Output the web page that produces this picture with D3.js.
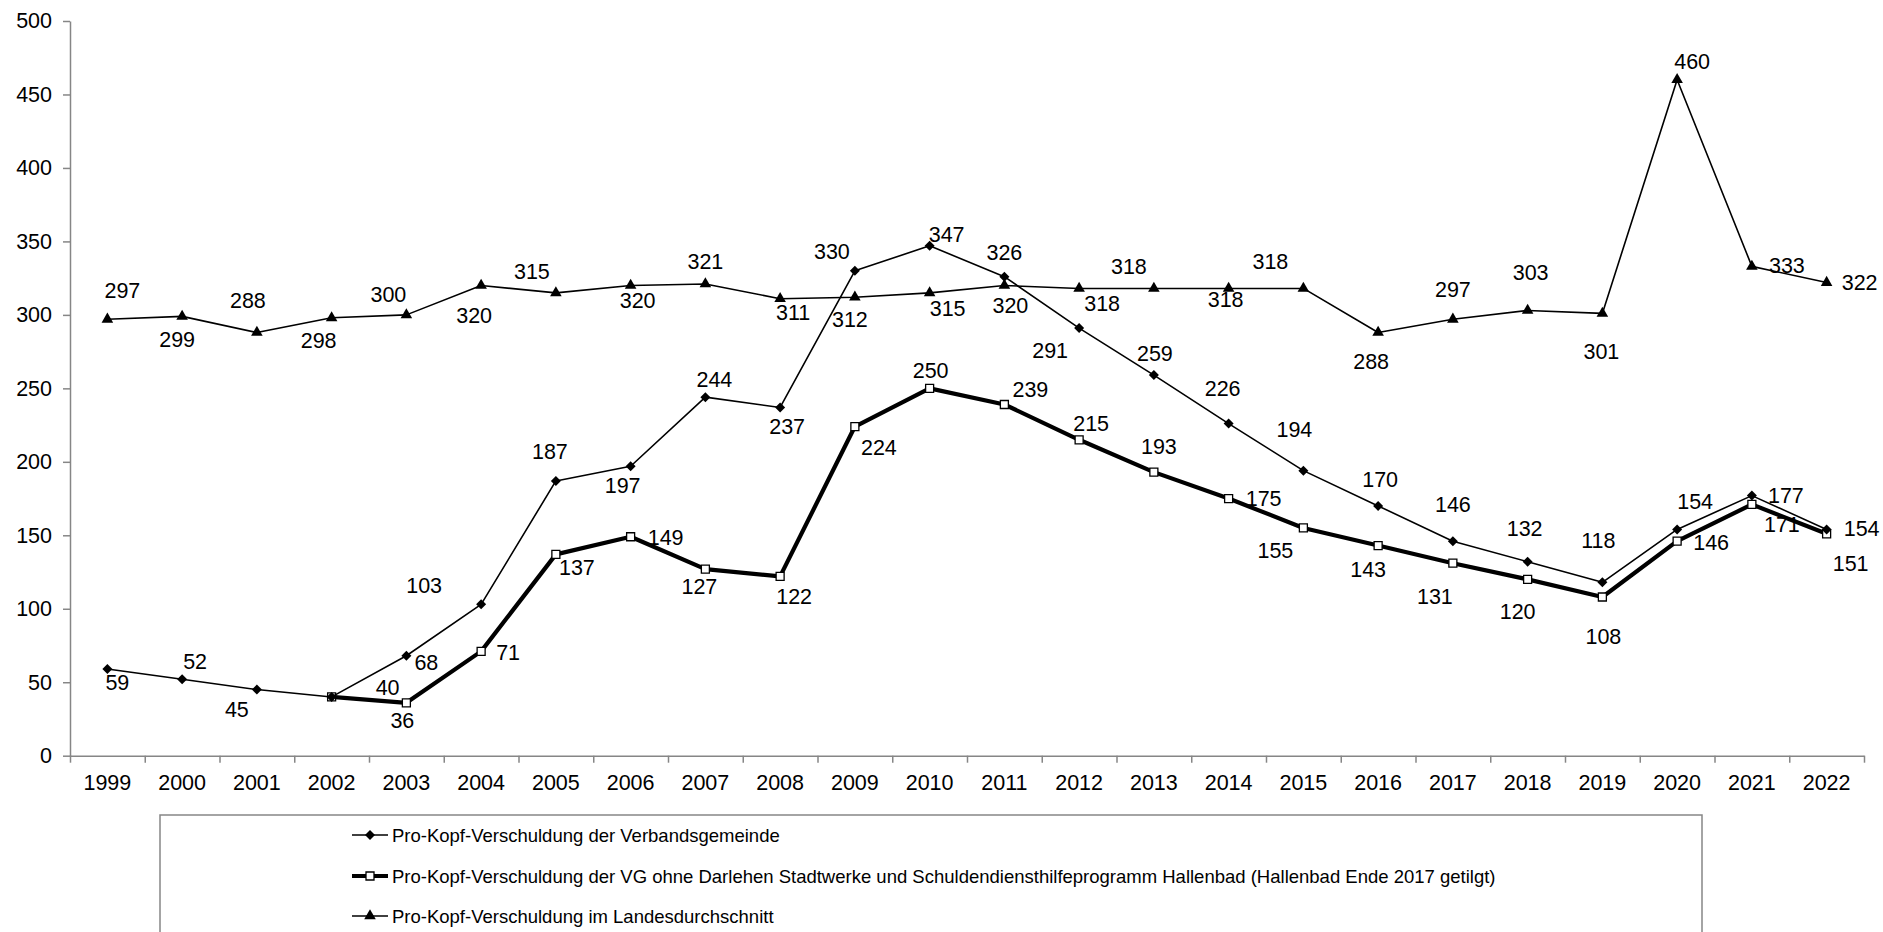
<!DOCTYPE html>
<html>
<head>
<meta charset="utf-8">
<script src="https://cdn.jsdelivr.net/npm/d3@7"></script>
<style>
  body { margin: 0; background: #fff; }
  text { font-family: "Liberation Sans", Arial, sans-serif; fill: #000; }
</style>
</head>
<body>
<svg id="chart" width="1883" height="932"></svg>
<script>
/* data */
const years = ["1999","2000","2001","2002","2003","2004","2005","2006","2007","2008","2009","2010",
               "2011","2012","2013","2014","2015","2016","2017","2018","2019","2020","2021","2022"];
const vgDebt   = [59,52,45,40,68,103,187,197,244,237,330,347,326,291,259,226,194,170,146,132,118,154,177,154];
const vgNoLoan = [null,null,null,40,36,71,137,149,127,122,224,250,239,215,193,175,155,143,131,120,108,146,171,151];
const landAvg  = [297,299,288,298,300,320,315,320,321,311,312,315,320,318,318,318,318,288,297,303,301,460,333,322];
const yTicks = [0,50,100,150,200,250,300,350,400,450,500];
const legendNames = [
  "Pro-Kopf-Verschuldung der Verbandsgemeinde",
  "Pro-Kopf-Verschuldung der VG ohne Darlehen Stadtwerke und Schuldendiensthilfeprogramm Hallenbad (Hallenbad Ende 2017 getilgt)",
  "Pro-Kopf-Verschuldung im Landesdurchschnitt"
];

/* where each value label sits relative to its marker (dx, dy), as placed in the original */
const vgDebtLabelPos = [[10,14],[13,-17],[-20,20],null,[20,7],[-57,-18],[-6,-29],[-8,20],[9,-17],[7,20],
  [-23,-19],[17,-11],[0,-24],[-29,23],[1,-21],[-6,-35],[-9,-41],[2,-26],[0,-36],[-3,-33],[-4,-41],[18,-27],[34,0],[35,0]];
const vgNoLoanLabelPos = [null,null,null,[56,-9],[-4,18],[27,2],[21,14],[35,1],[-6,18],[14,21],
  [24,21],[1,-17],[26,-15],[12,-16],[5,-25],[35,0],[-28,23],[-10,24],[-18,34],[-10,33],[1,40],[34,2],[30,21],[24,30]];
const landAvgLabelPos = [[15,-28],[-5,24],[-9,-32],[-13,23],[-18,-20],[-7,31],[-24,-21],[7,16],[0,-22],[13,14],
  [-5,23],[18,16],[6,21],[23,16],[-25,-21],[-3,12],[-33,-26],[-7,29],[0,-29],[3,-37],[-1,39],[15,-18],[35,0],[33,0]];

/* dimensions */
let margin = {top:21, left:70};
let width = 1794;
let height = 734.7;
let axisColor = "#868686";
let fontSize = 21.5;

let svg = d3.select("#chart");
let g = svg.append("g").attr("transform", `translate(${margin.left}, ${margin.top})`);

let x = d3.scaleBand().domain(years).range([0, width]);
let xTick = d3.scaleLinear().domain([0, years.length]).range([0, width]);
let y = d3.scaleLinear().domain([0, 500]).range([height, 0]);
let cx = d => x(d) + x.bandwidth() / 2;

// y axis
let yAxis = g.append("g")
  .call(d3.axisLeft(y).tickValues(yTicks).tickSize(7).tickSizeOuter(0).tickPadding(11));
yAxis.selectAll("text").style("font-size", fontSize + "px");

// x axis: tick marks on category borders, labels in the middle
let xAxis = g.append("g")
  .attr("transform", `translate(0, ${height})`)
  .call(d3.axisBottom(xTick).tickValues(d3.range(0, years.length + 1)).tickSize(7).tickSizeOuter(0).tickFormat(""));
let xLabels = g.append("g")
  .attr("transform", `translate(0, ${height})`)
  .call(d3.axisBottom(x).tickSize(0).tickPadding(19));
xLabels.select(".domain").remove();
xLabels.selectAll("text").style("font-size", fontSize + "px");

[yAxis, xAxis].forEach(a => {
  a.selectAll(".domain, line").attr("stroke", axisColor).attr("stroke-width", 1.5);
});

// series
let series = [
  {values: vgNoLoan, pos: vgNoLoanLabelPos, width: 4.2, symbol: "square"},
  {values: vgDebt,   pos: vgDebtLabelPos,   width: 1.6, symbol: "diamond"},
  {values: landAvg,  pos: landAvgLabelPos,  width: 1.6, symbol: "triangle"}
];

let symbolPath = {
  square:   d3.symbol().type(d3.symbolSquare).size(64)(),
  diamond:  d3.symbol().type(d3.symbolSquare).size(50)(),
  triangle: d3.symbol().type(d3.symbolTriangle).size(58)()
};

function drawMarker(sel, kind) {
  let p = sel.append("path").attr("d", symbolPath[kind]);
  if (kind === "square") {
    p.attr("fill", "#fff").attr("stroke", "#000").attr("stroke-width", 1.3);
  } else {
    p.attr("fill", "#000");
  }
  if (kind === "diamond") p.attr("transform", "rotate(45)");
  return p;
}

let line = d3.line()
  .defined(d => d.v !== null)
  .x(d => cx(d.year))
  .y(d => y(d.v));

series.forEach(s => {
  let pts = years.map((yr, i) => ({year: yr, v: s.values[i], pos: s.pos[i]}));

  g.append("path")
    .attr("d", line(pts))
    .attr("fill", "none")
    .attr("stroke", "#000")
    .attr("stroke-width", s.width)
    .attr("stroke-linejoin", "round");

  let valid = pts.filter(d => d.v !== null);
  valid.forEach(d => {
    let m = g.append("g").attr("transform", `translate(${cx(d.year)}, ${y(d.v)})`);
    drawMarker(m, s.symbol);
  });
  s.pts = valid;
});

// value labels on top
series.forEach(s => {
  g.selectAll(null)
    .data(s.pts.filter(d => d.pos))
    .join("text")
      .attr("x", d => cx(d.year) + d.pos[0])
      .attr("y", d => y(d.v) + d.pos[1])
      .attr("text-anchor", "middle")
      .attr("dominant-baseline", "central")
      .style("font-size", fontSize + "px")
      .text(d => d.v);
});

// legend
let legend = svg.append("g");
legend.append("rect")
  .attr("x", 160).attr("y", 815)
  .attr("width", 1542).attr("height", 140)
  .attr("fill", "none")
  .attr("stroke", axisColor)
  .attr("stroke-width", 1.5);

let legendOrder = [series[1], series[0], series[2]];
let legendRows = [835, 876, 916];
legendOrder.forEach((s, i) => {
  let row = legend.append("g").attr("transform", `translate(352, ${legendRows[i]})`);
  row.append("line")
    .attr("x1", 0).attr("x2", 36)
    .attr("stroke", "#000")
    .attr("stroke-width", s.width);
  let m = row.append("g").attr("transform", "translate(18, 0)");
  drawMarker(m, s.symbol);
  row.append("text")
    .attr("x", 40)
    .attr("dominant-baseline", "central")
    .style("font-size", "18.5px")
    .text(legendNames[i]);
});
</script>
</body>
</html>
